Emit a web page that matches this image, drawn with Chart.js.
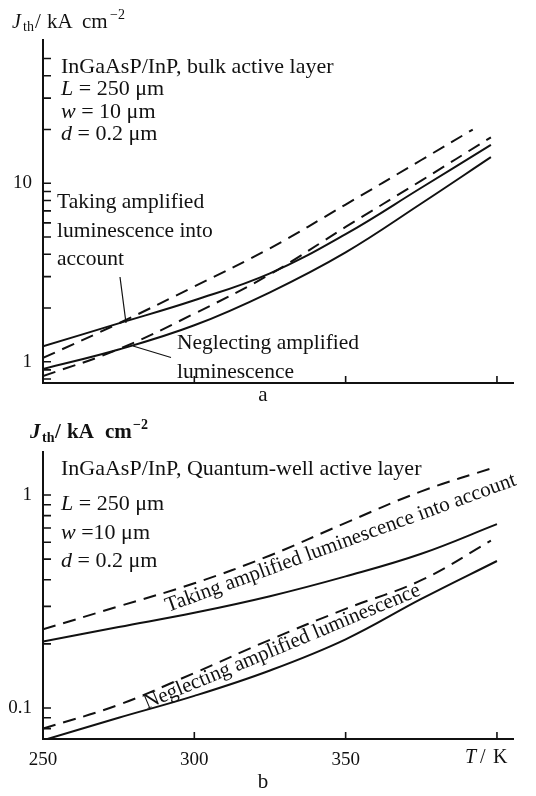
<!DOCTYPE html>
<html>
<head>
<meta charset="utf-8">
<script src="https://cdn.jsdelivr.net/npm/chart.js@4.4.1/dist/chart.umd.min.js"></script>
<style>
  html,body{margin:0;padding:0;background:#fff;}
  #wa{position:absolute;left:0;top:0;width:536px;height:410px;}
  #wb{position:absolute;left:0;top:410px;width:536px;height:386px;}
</style>
</head>
<body>
<div id="wa"><canvas id="ca"></canvas></div>
<div id="wb"><canvas id="cb"></canvas></div>
<script>
// ---------- Panel a data (bulk active layer), J_th in kA cm^-2 vs T in K ----------
const aTempsTakingSolid  = [250, 275, 300, 325, 350, 375, 398];
const aTakingSolid       = [1.22, 1.64, 2.21, 3.13, 5.19, 9.44, 16.4];
const aTempsNeglectSolid = [250, 275, 300, 325, 350, 375, 398];
const aNeglectSolid      = [0.91, 1.17, 1.6, 2.45, 4.1, 7.7, 14.0];
const aTempsTakingDash   = [250, 275, 300, 325, 350, 375, 392];
const aTakingDash        = [1.05, 1.64, 2.64, 4.32, 7.6, 13.5, 20.0];
const aTempsNeglectDash  = [250, 275, 300, 325, 350, 375, 398];
const aNeglectDash       = [0.83, 1.175, 1.86, 3.09, 5.69, 10.35, 18.1];

// ---------- Panel b data (quantum-well active layer) ----------
const bTempsTakingSolid  = [250, 275, 300, 325, 350, 375, 400];
const bTakingSolid       = [0.205, 0.24, 0.28, 0.335, 0.415, 0.53, 0.73];
const bTempsNeglectSolid = [250, 275, 300, 325, 350, 375, 400];
const bNeglectSolid      = [0.0705, 0.09, 0.114, 0.15, 0.21, 0.325, 0.49];
const bTempsTakingDash   = [250, 275, 300, 325, 350, 375, 400];
const bTakingDash        = [0.234, 0.3, 0.385, 0.52, 0.74, 1.04, 1.36];
const bTempsNeglectDash  = [250, 275, 300, 325, 350, 375, 398];
const bNeglectDash       = [0.08, 0.1035, 0.146, 0.209, 0.292, 0.398, 0.61];

// ---------- ticks ----------
const xTickValues  = [250, 300, 350, 400];
const bXTickLabels = [250, 300, 350];
const aYTickValues = [0.8, 0.9, 1, 2, 3, 4, 5, 6, 7, 8, 9, 10, 20, 30, 40, 50];
const aYTickLabels = [1, 10];
const bYTickValues = [0.08, 0.09, 0.1, 0.2, 0.3, 0.4, 0.5, 0.6, 0.7, 0.8, 0.9, 1];
const bYTickLabels = [0.1, 1];

const SERIF = "'Liberation Serif','Times New Roman',serif";
const INK = '#111';

function pts(xs, ys) { return xs.map((x, i) => ({x: x, y: ys[i]})); }
function ds(xs, ys, dashed) {
  return {
    data: pts(xs, ys),
    borderColor: INK,
    borderWidth: 2,
    borderDash: dashed ? [13, 8] : [],
    pointRadius: 0,
    fill: false,
    tension: 0.4
  };
}

function runs(ctx, x, y, parts) {
  let cx = x;
  parts.forEach(p => {
    ctx.font = p.f;
    if (p.x !== undefined) cx = p.x;
    ctx.fillText(p.t, cx, y + (p.dy || 0));
    cx += ctx.measureText(p.t).width;
  });
}

const R22 = '22px ' + SERIF, I22 = 'italic 22px ' + SERIF;

const drawers = {
  ca(ctx) {
    runs(ctx, 12, 28, [
      {t: 'J', f: 'italic 20px ' + SERIF},
      {t: 'th', f: '14px ' + SERIF, dy: 3, x: 23},
      {t: '/', f: '21px ' + SERIF, x: 35},
      {t: 'kA', f: '21px ' + SERIF, x: 47},
      {t: 'cm', f: '21px ' + SERIF, x: 82},
      {t: '\u22122', f: '14px ' + SERIF, dy: -9, x: 110}
    ]);
    ctx.font = R22;
    ctx.fillText('InGaAsP/InP, bulk active layer', 61, 72.5);
    runs(ctx, 61, 95, [{t: 'L', f: I22}, {t: ' = 250 \u03bcm', f: R22}]);
    runs(ctx, 61, 118, [{t: 'w', f: I22}, {t: ' = 10 \u03bcm', f: R22}]);
    runs(ctx, 61, 140, [{t: 'd', f: I22}, {t: ' = 0.2 \u03bcm', f: R22}]);
    ctx.font = '21.5px ' + SERIF;
    ctx.fillText('Taking amplified', 57, 207.5);
    ctx.fillText('luminescence into', 57, 237);
    ctx.fillText('account', 57, 265);
    ctx.fillText('Neglecting amplified', 177, 348.5);
    ctx.fillText('luminescence', 177, 378);
    ctx.font = '21px ' + SERIF;
    ctx.textAlign = 'center';
    ctx.fillText('a', 263, 401);
    ctx.textAlign = 'left';
    ctx.lineWidth = 1.2;
    ctx.beginPath();
    ctx.moveTo(120, 277); ctx.lineTo(126, 323);
    ctx.moveTo(133, 346); ctx.lineTo(171, 357.5);
    ctx.stroke();
  },
  cb(ctx) {
    const o = -410;
    runs(ctx, 30, 438 + o, [
      {t: 'J', f: 'italic bold 21px ' + SERIF},
      {t: 'th', f: 'bold 14px ' + SERIF, dy: 4, x: 42},
      {t: '/', f: 'bold 21px ' + SERIF, x: 55},
      {t: 'kA', f: 'bold 21px ' + SERIF, x: 67},
      {t: 'cm', f: 'bold 21px ' + SERIF, x: 105},
      {t: '\u22122', f: 'bold 14px ' + SERIF, dy: -9, x: 133}
    ]);
    ctx.font = R22;
    ctx.fillText('InGaAsP/InP, Quantum-well active layer', 61, 475 + o);
    runs(ctx, 61, 510 + o, [{t: 'L', f: I22}, {t: ' = 250 \u03bcm', f: R22}]);
    runs(ctx, 61, 538.5 + o, [{t: 'w', f: I22}, {t: ' =10 \u03bcm', f: R22}]);
    runs(ctx, 61, 567 + o, [{t: 'd', f: I22}, {t: ' = 0.2 \u03bcm', f: R22}]);
    ctx.font = '21px ' + SERIF;
    ctx.save();
    ctx.translate(168, 612 + o); ctx.rotate(-20 * Math.PI / 180);
    ctx.fillText('Taking amplified luminescence into account', 0, 0);
    ctx.restore();
    ctx.save();
    ctx.translate(147, 709 + o); ctx.rotate(-22.6 * Math.PI / 180);
    ctx.fillText('Neglecting amplified luminescence', 0, 0);
    ctx.restore();
    runs(ctx, 465, 763 + o, [
      {t: 'T', f: 'italic 20px ' + SERIF},
      {t: '/', f: '20px ' + SERIF, x: 480},
      {t: 'K', f: '20px ' + SERIF, x: 493}
    ]);
    ctx.font = '21px ' + SERIF;
    ctx.textAlign = 'center';
    ctx.fillText('b', 263, 788 + o);
    ctx.textAlign = 'left';
  }
};

const tickSets = {
  ca: {x: xTickValues, y: aYTickValues},
  cb: {x: xTickValues, y: bYTickValues}
};

const annot = {
  id: 'annot',
  afterDraw(chart) {
    const ctx = chart.ctx;
    const {left, bottom} = chart.chartArea;
    const xs = chart.scales.x, ys = chart.scales.y;
    const t = tickSets[chart.canvas.id];
    ctx.save();
    ctx.strokeStyle = INK;
    ctx.lineWidth = 1.6;
    ctx.beginPath();
    t.y.forEach(v => {
      const p = ys.getPixelForValue(v);
      ctx.moveTo(left, p); ctx.lineTo(left + 8, p);
    });
    t.x.forEach(v => {
      const p = xs.getPixelForValue(v);
      ctx.moveTo(p, bottom); ctx.lineTo(p, bottom - 7);
    });
    ctx.stroke();
    ctx.fillStyle = INK;
    ctx.textBaseline = 'alphabetic';
    drawers[chart.canvas.id](ctx);
    ctx.restore();
  }
};

function makeChart(id, datasets, cfg) {
  return new Chart(document.getElementById(id), {
    type: 'line',
    data: {datasets: datasets},
    plugins: [annot],
    options: {
      responsive: true,
      maintainAspectRatio: false,
      animation: false,
      devicePixelRatio: 1,
      layout: {padding: {left: 0, right: 23, top: cfg.top, bottom: 0}},
      plugins: {legend: {display: false}, tooltip: {enabled: false}},
      scales: {
        x: {
          type: 'linear', min: 250, max: 405.3,
          grid: {display: false, drawTicks: false},
          border: {display: true, color: INK, width: 2},
          ticks: {
            display: cfg.xLabels.length > 0,
            color: INK, font: {family: SERIF, size: 19},
            padding: 10, maxRotation: 0, autoSkip: false,
            callback: v => String(v)
          },
          afterBuildTicks: s => { s.ticks = cfg.xLabels.map(v => ({value: v})); },
          afterFit: s => { s.height = cfg.xh; s.paddingLeft = 0; s.paddingRight = 0; }
        },
        y: {
          type: 'logarithmic', min: cfg.ymin, max: cfg.ymax,
          grid: {display: false, drawTicks: false},
          border: {display: true, color: INK, width: 2},
          ticks: {
            color: INK, font: {family: SERIF, size: 19},
            padding: 11, autoSkip: false,
            callback: v => String(v)
          },
          afterBuildTicks: s => { s.ticks = cfg.yLabels.map(v => ({value: v})); },
          afterFit: s => { s.width = 43; s.paddingTop = 0; s.paddingBottom = 0; }
        }
      }
    }
  });
}

makeChart('ca', [
  ds(aTempsTakingSolid, aTakingSolid, false),
  ds(aTempsNeglectSolid, aNeglectSolid, false),
  ds(aTempsTakingDash, aTakingDash, true),
  ds(aTempsNeglectDash, aNeglectDash, true)
], {top: 40, xh: 27, ymin: 0.76, ymax: 63.5, xLabels: [], yLabels: aYTickLabels});

makeChart('cb', [
  ds(bTempsTakingSolid, bTakingSolid, false),
  ds(bTempsNeglectSolid, bNeglectSolid, false),
  ds(bTempsTakingDash, bTakingDash, true),
  ds(bTempsNeglectDash, bNeglectDash, true)
], {top: 42, xh: 57, ymin: 0.0715, ymax: 1.592, xLabels: bXTickLabels, yLabels: bYTickLabels});
</script>
</body>
</html>
